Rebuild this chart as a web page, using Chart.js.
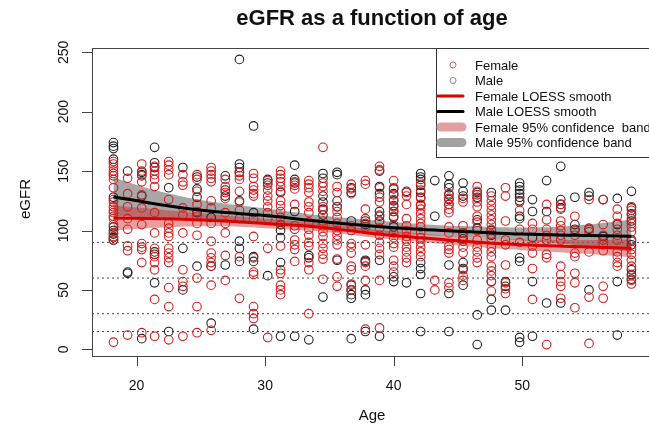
<!DOCTYPE html>
<html>
<head>
<meta charset="utf-8">
<script src="https://cdn.jsdelivr.net/npm/chart.js@4.4.1/dist/chart.umd.min.js"></script>
<style>
  html, body { margin:0; padding:0; background:#fff; overflow:hidden; }
  #wrap { width:649px; height:434px; overflow:hidden; }
</style>
</head>
<body>
<div id="wrap"><canvas id="c" width="660" height="434"></canvas></div>
<script>
// age of each column of points
const ages = [18.2, 19.3, 20.4, 21.4, 22.5, 23.6, 24.7, 25.8, 26.9, 28.0,
              29.1, 30.2, 31.2, 32.3, 33.4, 34.5, 35.6, 36.7, 37.8, 38.9,
              40.0, 41.0, 42.1, 43.2, 44.3, 45.4, 46.5, 47.6, 48.7, 49.8,
              50.8, 51.9, 53.0, 54.1, 55.2, 56.3, 57.4, 58.5];

// eGFR values per age column
const femaleEgfr = [
  [158,156,153,150,148,146,143,136,126,124,120,117,115,112,110,105,98,95,92,6],
  [144,131,120,110,101,87,83,12],
  [156,150,146,141,130,119,105,89,86,84,73,14],
  [154,150,147,143,137,115,98,85,78,73,67,42,11],
  [158,155,151,147,126,106,102,98,95,85,81,77,73,52,36,8],
  [147,141,138,119,113,98,67,57,53,11],
  [147,143,133,122,116,112,106,96,60,36,14],
  [153,150,147,144,141,125,119,106,91,81,77,73,70,54,16],
  [143,137,132,127,115,106,98,79,58],
  [149,146,143,133,124,117,110,78,43],
  [148,144,137,134,131,129,110,95,77,65,63,36,30,26],
  [142,138,134,129,125,120,115,110,85,10],
  [150,147,144,141,137,133,125,121,116,111,105,87,67,64,54,50,46],
  [141,138,135,122,104,101,92,88,84,74],
  [142,139,136,132,124,120,115,107,101,96,90,87,73,67,30],
  [170,140,137,133,120,117,108,104,99,95,89,85,80,76,59],
  [137,132,120,116,111,106,100,96,92,88,76,61,53],
  [139,135,131,104,100,89,86,81,70,67,55,50],
  [142,139,118,110,106,103,88,73,70,58,17],
  [154,151,136,128,124,113,108,102,96,90,85,80,58,18],
  [142,136,130,126,120,116,112,105,98,94,89,86,75,70,65],
  [132,129,122,110,104,100,95,91,86,82,77,73],
  [140,134,127,122,118,114,110,106,103,98,94,90,86,82,78],
  [58,50],
  [131,127,122,118,115,103,98,87,84,81,56,52],
  [127,124,104,98,95,91,86,81,67,62,58],
  [137,133,130,127,124,120,112,107,100,92,86,82,77,73],
  [129,125,121,117,113,109,105,101,97,93,86,82,78,70,66,62,57,49],
  [136,129,108,92,88,71,56,51,47],
  [124,117,101,90],
  [106,101,87,81,68,42],
  [122,109,101,96,92,80,77,4],
  [122,118,108,104,100,96,92,70,63,57,53,43],
  [112,100,96,81,78,64,56,35],
  [126,102,99,82,44,5],
  [126,105,96,92,88,83,53,43],
  [118,112,106,101,96,92,82,78,73,70],
  [120,117,113,110,106,103,99,91,84,80,75,70,62,58,55]
];
const maleEgfr = [
  [174,171,169,160,128,103,100,97,94,92],
  [150,65,64],
  [149,147,129,9],
  [170,157,153,82,80,56],
  [136,15],
  [153,85,50],
  [145,135,128,115,70],
  [111,70,22],
  [146,134,129,71],
  [244,156,153,149,125,91,85,74],
  [188,115,78,74,17],
  [143,140,62],
  [132,105,100,94,73,11],
  [155,143,140,116,11],
  [79,77,8],
  [148,144,129,124,118,113,44],
  [149,147,125,120,75],
  [136,132,108,54,50,46,43,9],
  [108,105,75,74,50,46,15],
  [150,137,131,116,112,108,75,11],
  [135,131,125,121,116,111,103,61,57],
  [133,56],
  [148,145,143,138,132,128,121,73,68,63,47,15],
  [142,112],
  [146,139,136,130,126,122,71,47,15],
  [140,133,129,98,93,73,68,54],
  [132,128,109,102,29,4],
  [132,100,96,57,42,33],
  [57,53,33],
  [140,137,134,131,128,125,112,110,77,74,10,6],
  [126,116,94,57,11],
  [142,116,39],
  [154,126,122,119,39],
  [128,105,101],
  [132,129,101,50],
  [126,95],
  [127,105,57,12],
  [133,119,114,108,92,88,67,63,59]
];

// LOESS fits and 95% bands
const fitAges     = [18.2, 22, 26, 30, 34, 38, 42, 46, 50, 54, 58.5];
const maleFit     = [128.5, 121.5, 116, 112.7, 108, 104, 101, 99, 97, 96, 95.2];
const maleUpper   = [144.5, 132.5, 124, 118.7, 113, 109, 105.5, 103.5, 102.5, 104, 109];
const maleLower   = [112.5, 110.5, 108, 106.7, 103, 99, 96.5, 94.5, 91.5, 88, 82];
const femaleFit   = [110.6, 110, 108.5, 106, 103, 98, 94, 90.5, 88, 86.5, 85];
const femaleUpper = [121.1, 117.5, 113.5, 110, 106.5, 101.5, 97.5, 94.5, 92.5, 92, 92.5];
const femaleLower = [100.1, 102.5, 103.5, 102, 99.5, 94.5, 90.5, 86.5, 83.5, 81, 77.5];

// CKD reference levels
const refLevels = [90, 60, 30, 15];

const xTicks = [20, 30, 40, 50];
const yTicks = [0, 50, 100, 150, 200, 250];
const xRange = [16.53, 60.1];
const yRange = [-5.6, 253.6];

const legendItems = ['Female', 'Male', 'Female LOESS smooth', 'Male LOESS smooth',
                     'Female 95% confidence  band', 'Male 95% confidence band'];

const FONT = '"Liberation Sans", Arial, sans-serif';
const RED = '#d21e1e';

function pts(xs, ys){ return xs.map((x,i) => ({x:x, y:ys[i]})); }
function scatter(byCol){
  const out = [];
  ages.forEach((a,i) => byCol[i].forEach(v => out.push({x:a, y:v})));
  return out;
}

const datasets = [];
// bands
datasets.push({ type:'line', data: pts(fitAges, maleUpper), borderWidth:0, pointRadius:0,
  tension:0.4, fill:'+1', backgroundColor:'rgba(120,120,120,0.65)', order:5 });
datasets.push({ type:'line', data: pts(fitAges, maleLower), borderWidth:0, pointRadius:0,
  tension:0.4, fill:false, order:5 });
datasets.push({ type:'line', data: pts(fitAges, femaleUpper), borderWidth:0, pointRadius:0,
  tension:0.4, fill:'+1', backgroundColor:'rgba(205,40,40,0.45)', order:4 });
datasets.push({ type:'line', data: pts(fitAges, femaleLower), borderWidth:0, pointRadius:0,
  tension:0.4, fill:false, order:4 });
// reference lines
refLevels.forEach(v => datasets.push({ type:'line', data: pts(xRange, [v, v]),
  borderColor:'#444', borderWidth:1, borderDash:[2,3], pointRadius:0, fill:false, order:6 }));
// points
datasets.push({ type:'scatter', data: scatter(maleEgfr), pointRadius:4.3, borderWidth:1.1,
  borderColor:'#222', backgroundColor:'rgba(0,0,0,0)', order:3 });
datasets.push({ type:'scatter', data: scatter(femaleEgfr), pointRadius:4.3, borderWidth:1.1,
  borderColor:RED, backgroundColor:'rgba(0,0,0,0)', order:2 });
// smooths
datasets.push({ type:'line', data: pts(fitAges, femaleFit), borderColor:'#dd0000', borderWidth:3,
  pointRadius:0, tension:0.4, fill:false, order:1 });
datasets.push({ type:'line', data: pts(fitAges, maleFit), borderColor:'#000', borderWidth:3,
  pointRadius:0, tension:0.4, fill:false, order:0 });

// R-style frame, axes, titles and legend
const rDecor = {
  id:'rDecor',
  afterDraw(chart){
    const ctx = chart.ctx, a = chart.chartArea;
    const xs = chart.scales.x, ys = chart.scales.y;
    ctx.save();
    ctx.strokeStyle = '#444'; ctx.lineWidth = 1;
    ctx.strokeRect(a.left + 0.5, a.top + 0.5, a.right - a.left, a.bottom - a.top);
    ctx.fillStyle = '#111';
    ctx.font = '14px ' + FONT;
    ctx.textAlign = 'center'; ctx.textBaseline = 'middle';
    ctx.beginPath();
    xTicks.forEach(t => {
      const px = Math.round(xs.getPixelForValue(t)) + 0.5;
      ctx.moveTo(px, a.bottom); ctx.lineTo(px, a.bottom + 10);
    });
    yTicks.forEach(t => {
      const py = Math.round(ys.getPixelForValue(t)) + 0.5;
      ctx.moveTo(a.left, py); ctx.lineTo(a.left - 10, py);
    });
    ctx.stroke();
    xTicks.forEach(t => ctx.fillText(String(t), xs.getPixelForValue(t), 386));
    yTicks.forEach(t => {
      ctx.save();
      ctx.translate(64, ys.getPixelForValue(t));
      ctx.rotate(-Math.PI/2);
      ctx.fillText(String(t), 0, 0);
      ctx.restore();
    });
    // axis titles
    ctx.font = '15px ' + FONT;
    const cx = (a.left + a.right) / 2;
    ctx.fillText('Age', cx, 416);
    ctx.save();
    ctx.translate(26, (a.top + a.bottom) / 2 - 3);
    ctx.rotate(-Math.PI/2);
    ctx.fillText('eGFR', 0, 0);
    ctx.restore();
    // main title
    ctx.font = 'bold 22px ' + FONT;
    ctx.fillText('eGFR as a function of age', cx, 19);

    // legend
    const lx = 436, ly = a.top, lw = 240, lh = 109;
    ctx.fillStyle = '#fff';
    ctx.fillRect(lx, ly, lw, lh);
    ctx.strokeStyle = '#333';
    ctx.strokeRect(lx + 0.5, ly + 0.5, lw, lh);
    ctx.font = '13px ' + FONT;
    ctx.textAlign = 'left';
    legendItems.forEach((txt, i) => {
      const y = 65 + i * 15.5;
      if (i < 2) {
        ctx.beginPath();
        ctx.arc(453, y, 3, 0, Math.PI * 2);
        ctx.strokeStyle = i === 0 ? '#c86a6a' : '#888';
        ctx.lineWidth = 1;
        ctx.stroke();
      } else {
        ctx.beginPath();
        ctx.moveTo(i < 4 ? 438 : 441, y); ctx.lineTo(i < 4 ? 463 : 462, y);
        ctx.lineCap = 'round';
        if (i === 2) { ctx.strokeStyle = '#dd0000'; ctx.lineWidth = 3; }
        if (i === 3) { ctx.strokeStyle = '#000'; ctx.lineWidth = 3; }
        if (i === 4) { ctx.strokeStyle = '#e4a0a0'; ctx.lineWidth = 9; }
        if (i === 5) { ctx.strokeStyle = '#a2a2a2'; ctx.lineWidth = 9; }
        ctx.stroke();
        ctx.lineCap = 'butt';
      }
      ctx.fillStyle = '#111';
      ctx.fillText(txt, 475, y + 1);
    });
    ctx.restore();
  }
};

new Chart(document.getElementById('c').getContext('2d'), {
  type: 'scatter',
  data: { datasets: datasets },
  options: {
    responsive: false,
    animation: false,
    devicePixelRatio: 1,
    layout: { padding: { left: 92, top: 48, right: 8, bottom: 78 } },
    plugins: { legend: { display:false }, tooltip: { enabled:false }, title: { display:false } },
    scales: {
      x: { type:'linear', min:xRange[0], max:xRange[1], display:false },
      y: { type:'linear', min:yRange[0], max:yRange[1], display:false }
    }
  },
  plugins: [rDecor]
});
</script>
</body>
</html>
